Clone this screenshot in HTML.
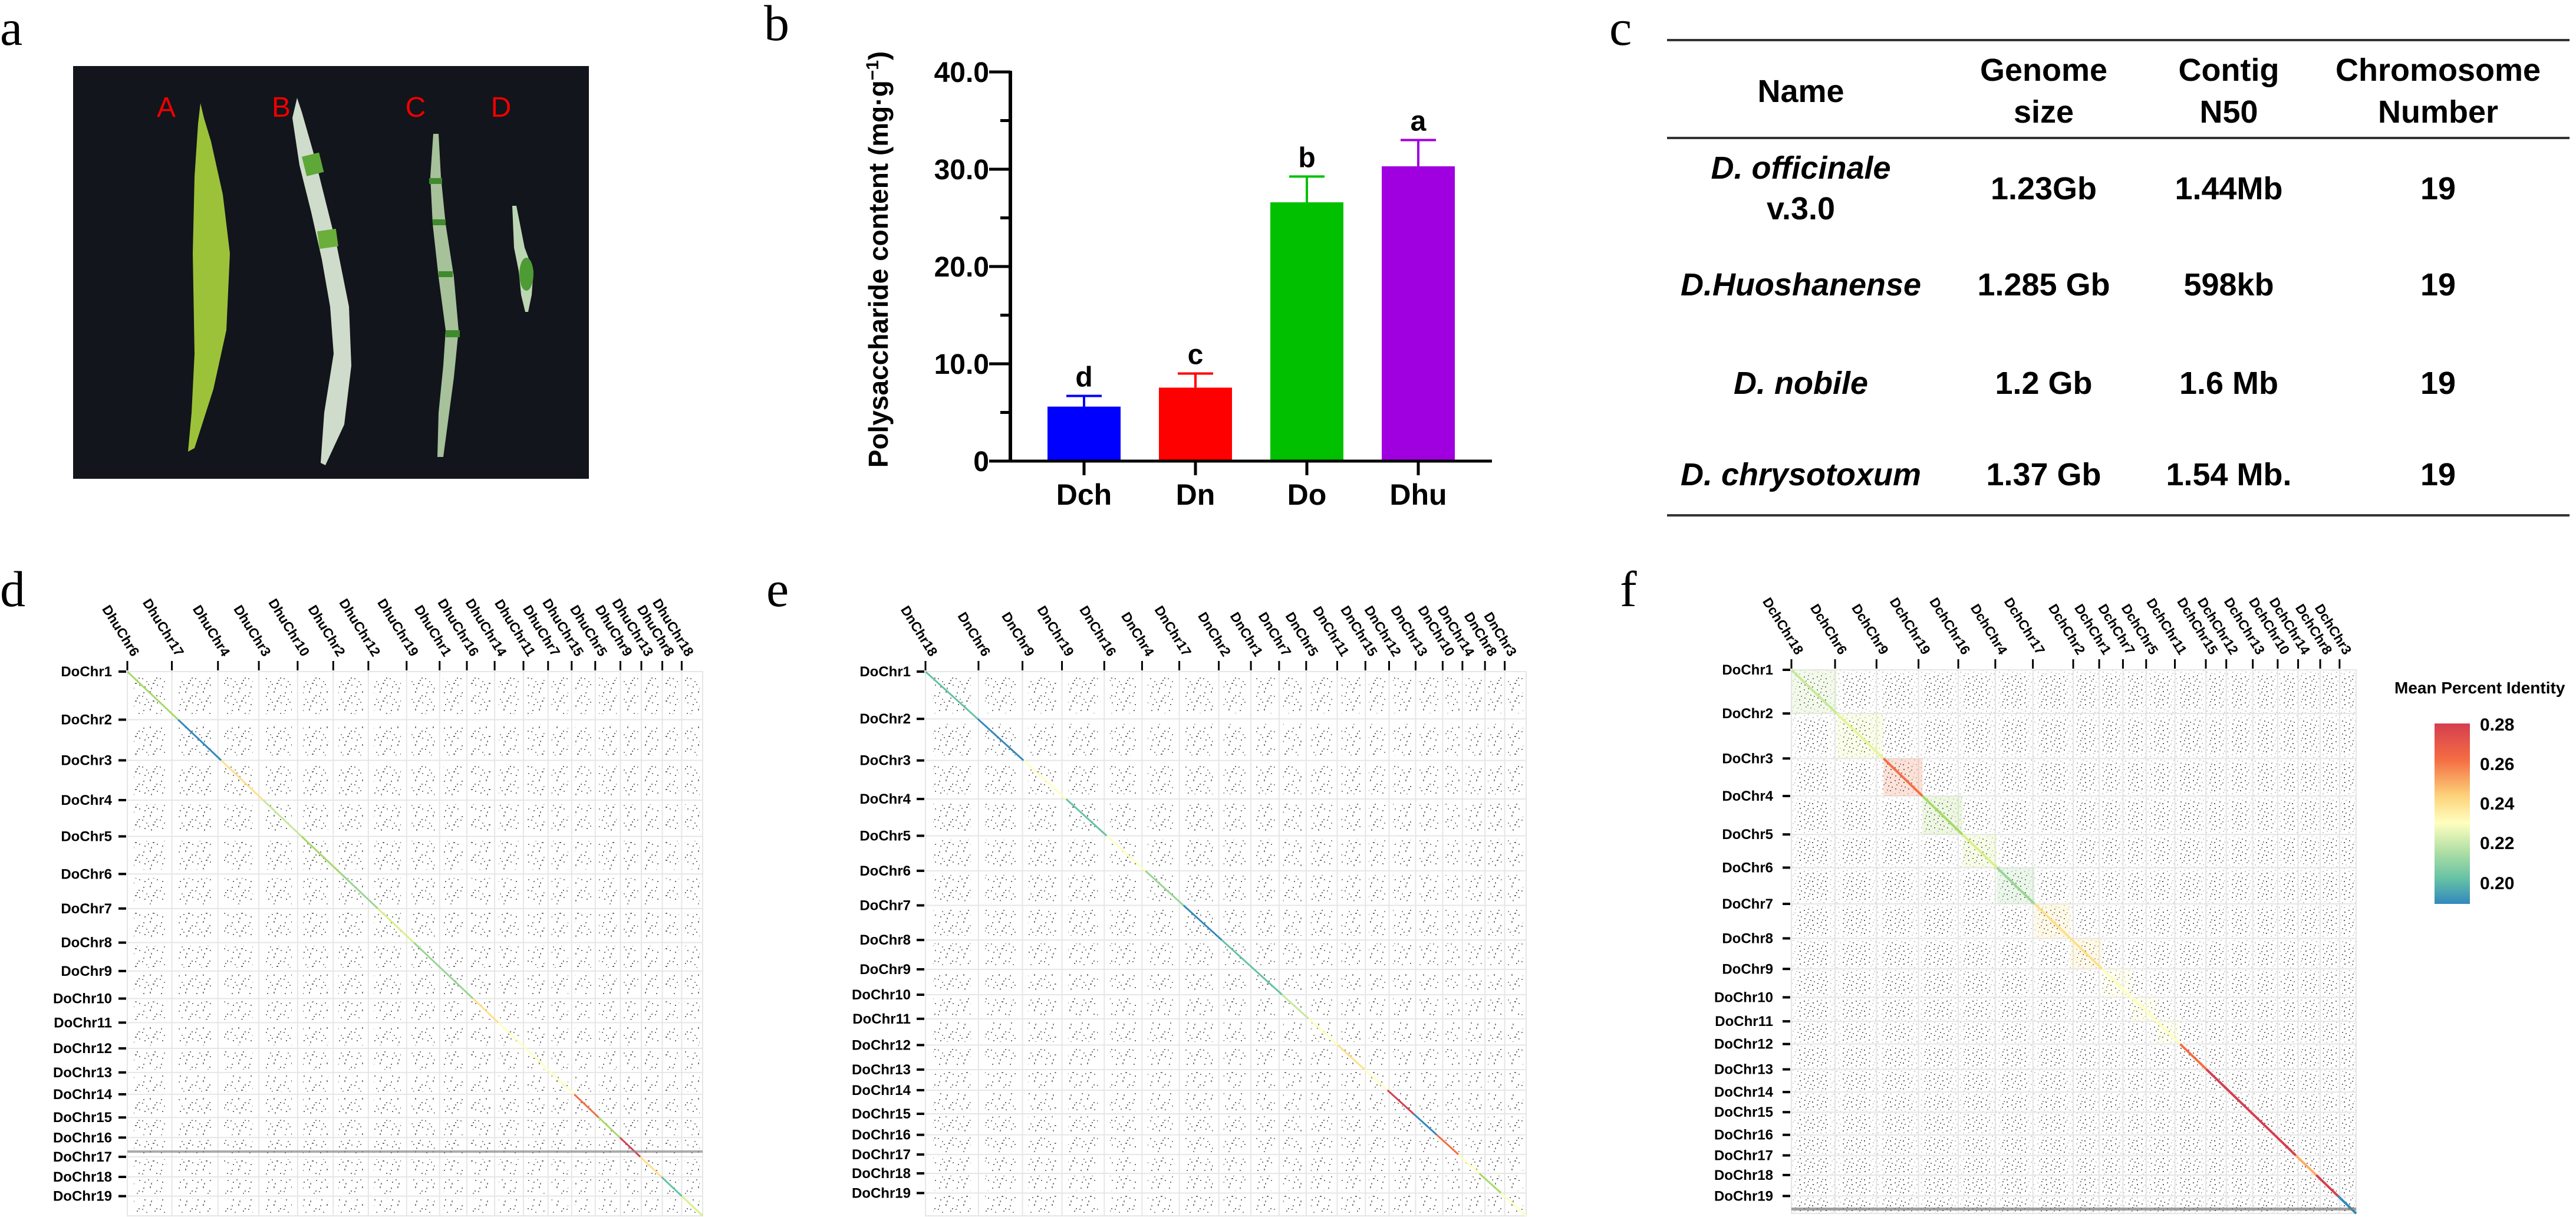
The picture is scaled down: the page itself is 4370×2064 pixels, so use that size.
<!DOCTYPE html>
<html><head><meta charset="utf-8">
<style>
html,body{margin:0;padding:0;background:#fff;}
svg{display:block;}
text{font-family:"Liberation Sans",sans-serif;}
.serif{font-family:"Liberation Serif",serif;}
</style></head>
<body>
<svg id="fig" width="4370" height="2064" viewBox="0 0 4370 2064" xmlns="http://www.w3.org/2000/svg">
<defs>
<pattern id="dotsL" width="30" height="30" patternUnits="userSpaceOnUse">
<rect x="3" y="4" width="2" height="2" fill="#555"/><rect x="14" y="2" width="2" height="3" fill="#666"/><rect x="25" y="9" width="2" height="2" fill="#555"/><rect x="8" y="15" width="2" height="2" fill="#777"/><rect x="19" y="18" width="3" height="2" fill="#555"/><rect x="26" y="21" width="2" height="2" fill="#666"/><rect x="5" y="24" width="2" height="2" fill="#555"/><rect x="16" y="26" width="2" height="3" fill="#777"/><rect x="22" y="13" width="2" height="2" fill="#555"/><rect x="11" y="20" width="2" height="2" fill="#666"/><rect x="1" y="10" width="2" height="2" fill="#666"/>
</pattern>
<pattern id="dotsD" width="22" height="22" patternUnits="userSpaceOnUse">
<rect x="2" y="3" width="2" height="2" fill="#666"/><rect x="9" y="1" width="2" height="2" fill="#777"/><rect x="17" y="6" width="2" height="2" fill="#555"/><rect x="5" y="10" width="2" height="2" fill="#888"/><rect x="13" y="12" width="2" height="2" fill="#666"/><rect x="19" y="14" width="2" height="2" fill="#777"/><rect x="3" y="17" width="2" height="2" fill="#666"/><rect x="11" y="19" width="2" height="2" fill="#888"/><rect x="16" y="20" width="2" height="2" fill="#555"/><rect x="8" y="7" width="2" height="2" fill="#777"/>
</pattern>
<linearGradient id="spectral" x1="0" y1="0" x2="0" y2="1">
<stop offset="0" stop-color="#d53e4f"/><stop offset="0.2" stop-color="#f46d43"/><stop offset="0.4" stop-color="#fdd27a"/><stop offset="0.55" stop-color="#ffffbf"/><stop offset="0.72" stop-color="#abdda4"/><stop offset="0.86" stop-color="#66c2a5"/><stop offset="1" stop-color="#3288bd"/>
</linearGradient>
</defs>

<!-- Panel a -->
<g>
<text class="serif" x="0" y="76" font-size="86">a</text>
<rect x="124" y="112" width="875" height="700" fill="#12151b"/>
<path d="M340,175 L346,200 L358,240 L378,330 L390,430 L384,560 L362,660 L330,760 L319,766 L325,700 L330,600 L327,430 L330,300 L336,210 Z" fill="#9cc23a"/>
<path d="M504,166 L512,190 L532,260 L552,340 L572,420 L592,520 L596,620 L584,720 L552,789 L544,785 L550,700 L566,600 L560,520 L546,440 L528,360 L508,280 L496,200 Z" fill="#cfdccb"/>
<rect x="516" y="262" width="30" height="34" fill="#5ea838" transform="rotate(-14 530 280)"/>
<rect x="540" y="390" width="32" height="30" fill="#6aae3c" transform="rotate(-8 556 405)"/>
<path d="M735,227 L744,227 L748,300 L756,380 L770,470 L778,560 L770,640 L762,700 L752,775 L742,775 L744,700 L752,620 L756,560 L744,470 L734,380 L730,300 Z" fill="#a7c19a"/>
<rect x="728" y="302" width="22" height="10" fill="#3f8a2c"/><rect x="734" y="372" width="22" height="10" fill="#3f8a2c"/><rect x="744" y="460" width="24" height="10" fill="#3f8a2c"/><rect x="756" y="560" width="24" height="12" fill="#3f8a2c"/>
<path d="M869,349 L876,349 L890,420 L905,460 L902,500 L896,529 L891,529 L884,500 L880,460 L872,420 Z" fill="#bcd6b4"/>
<ellipse cx="893" cy="465" rx="12" ry="28" fill="#4e9b35"/>
<text x="282" y="198" font-size="48" fill="#e00" text-anchor="middle">A</text>
<text x="477" y="198" font-size="48" fill="#e00" text-anchor="middle">B</text>
<text x="705" y="198" font-size="48" fill="#e00" text-anchor="middle">C</text>
<text x="850" y="198" font-size="48" fill="#e00" text-anchor="middle">D</text>
</g>

<!-- Panel b -->
<g id="panelB">
<text class="serif" x="1296" y="68" font-size="86">b</text>
<text transform="translate(1506,440) rotate(-90)" font-size="46" font-weight="bold" text-anchor="middle">Polysaccharide content (mg·g<tspan font-size="30" dy="-16">−1</tspan><tspan dy="16">)</tspan></text>
</g>

<!-- Panel c -->
<g font-weight="bold" font-size="54" text-anchor="middle">
<text class="serif" x="2730" y="76" font-size="86" font-weight="normal" text-anchor="start">c</text>
<rect x="2828" y="66" width="1531" height="4" fill="#333"/>
<rect x="2828" y="232" width="1531" height="4" fill="#333"/>
<rect x="2828" y="872" width="1531" height="4" fill="#333"/>
<text x="3055" y="173">Name</text>
<text x="3467" y="137">Genome</text><text x="3467" y="208">size</text>
<text x="3781" y="137">Contig</text><text x="3781" y="208">N50</text>
<text x="4136" y="137">Chromosome</text><text x="4136" y="208">Number</text>
<text x="3055" y="303" font-style="italic">D. officinale</text><text x="3055" y="372">v.3.0</text>
<text x="3467" y="338">1.23Gb</text><text x="3781" y="338">1.44Mb</text><text x="4136" y="338">19</text>
<text x="3055" y="501" font-style="italic">D.Huoshanense</text>
<text x="3467" y="501">1.285 Gb</text><text x="3781" y="501">598kb</text><text x="4136" y="501">19</text>
<text x="3055" y="668" font-style="italic">D. nobile</text>
<text x="3467" y="668">1.2 Gb</text><text x="3781" y="668">1.6 Mb</text><text x="4136" y="668">19</text>
<text x="3055" y="823" font-style="italic">D. chrysotoxum</text>
<text x="3467" y="823">1.37 Gb</text><text x="3781" y="823">1.54 Mb.</text><text x="4136" y="823">19</text>
</g>

<text class="serif" x="0" y="1028" font-size="86">d</text>
<text class="serif" x="1300" y="1028" font-size="86">e</text>
<text class="serif" x="2748" y="1028" font-size="86">f</text>
<g id="panelD"></g>
<g id="panelE"></g>
<g id="panelF"></g>
<g>
<text x="4062" y="1176" font-size="28" font-weight="bold">Mean Percent Identity</text>
<rect x="4130" y="1227" width="60" height="306" fill="url(#spectral)"/>
<g font-size="30" font-weight="bold">
<text x="4207" y="1239">0.28</text><text x="4207" y="1306">0.26</text><text x="4207" y="1373">0.24</text><text x="4207" y="1440">0.22</text><text x="4207" y="1508">0.20</text>
</g>
</g>
</svg>

<script>
// ---------- Bar chart data ----------
const barCategories = ["Dch", "Dn", "Do", "Dhu"];
const barValues = [5.6, 7.55, 26.6, 30.3];
const barErrors = [1.1, 1.45, 2.65, 2.7];
const barLetters = ["d", "c", "b", "a"];
const barColors = ["#0000ff", "#ff0000", "#00c000", "#a000e0"];
const yTickValues = [0, 10, 20, 30, 40];
const yTickLabels = ["0", "10.0", "20.0", "30.0", "40.0"];
const yMinorTicks = [5, 15, 25, 35];

const NS = "http://www.w3.org/2000/svg";
function mk(tag, attrs, parent) {
  const e = document.createElementNS(NS, tag);
  for (const k in attrs) e.setAttribute(k, attrs[k]);
  parent.appendChild(e);
  return e;
}
(function () {
  const g = document.getElementById("panelB");
  const axisX = 1714, y0 = 782, pxPer = 16.5;
  const ys = v => y0 - v * pxPer;
  const xs = i => 1839 + i * 189;
  const bw = 124;
  barValues.forEach((v, i) => {
    const r = mk("rect", { x: xs(i) - bw / 2, y: ys(v), width: bw, height: y0 - ys(v), fill: barColors[i] }, g);
    
    
    const top = ys(v + barErrors[i]);
    const el = mk("path", { d: `M${xs(i)},${ys(v)}V${top}M${xs(i) - 30},${top}H${xs(i) + 30}`, stroke: barColors[i], "stroke-width": 4, fill: "none" }, g);
    
    
    const t = mk("text", { x: xs(i), y: top - 16, "font-size": 48, "font-weight": "bold", "text-anchor": "middle" }, g);
    t.textContent = barLetters[i];
    
    
    const tk = mk("rect", { x: xs(i) - 2.5, y: y0, width: 5, height: 24, fill: "#000" }, g);
    
    
    const xl = mk("text", { x: xs(i), y: 856, "font-size": 50, "font-weight": "bold", "text-anchor": "middle" }, g);
    xl.textContent = barCategories[i];
    
    
  });
  const ax = mk("rect", { x: axisX - 3, y: ys(40) - 2, width: 6, height: y0 - ys(40) + 4, fill: "#000" }, g);
  
  
  const xa = mk("rect", { x: axisX - 3, y: y0 - 2.5, width: 2534 - axisX, height: 5, fill: "#000" }, g);
  
  
  yTickValues.forEach((v, i) => {
    const tk = mk("rect", { x: axisX - 36, y: ys(v) - 2.5, width: 36, height: 5, fill: "#000" }, g);
    
    
    const tl = mk("text", { x: 1678, y: ys(v) + 17, "font-size": 48, "font-weight": "bold", "text-anchor": "end" }, g);
    tl.textContent = yTickLabels[i];
    
    
  });
  yMinorTicks.forEach(v => {
    const tk = mk("rect", { x: axisX - 17, y: ys(v) - 2.5, width: 17, height: 5, fill: "#000" }, g);
    
    
  });
})();

// ---------- Dot plot data ----------
const doNames = ["DoChr1","DoChr2","DoChr3","DoChr4","DoChr5","DoChr6","DoChr7","DoChr8","DoChr9","DoChr10","DoChr11","DoChr12","DoChr13","DoChr14","DoChr15","DoChr16","DoChr17","DoChr18","DoChr19"];
const dNamesX = ["DhuChr6","DhuChr17","DhuChr4","DhuChr3","DhuChr10","DhuChr2","DhuChr12","DhuChr19","DhuChr1","DhuChr16","DhuChr14","DhuChr11","DhuChr7","DhuChr15","DhuChr5","DhuChr9","DhuChr13","DhuChr8","DhuChr18"];
const dLenX = [85,88,78,74,68,67,73,63,52,53,55,47,45,45,48,40,40,37,40];
const dLenY = [110,93,91,83,86,79,78,65,63,55,59,55,50,53,46,44,46,44,45];
const dDiagColors = ["#a6d96a","#3288bd","#fee08b","#c7e89b","#a6d96a","#99d594","#d9ef8b","#99d594","#99d594","#fee08b","#ffffbf","#ffffbf","#ffffbf","#f46d43","#a6d96a","#d53e4f","#fee08b","#66c2a5","#d9ef8b"];
const eNamesX = ["DnChr18","DnChr6","DnChr9","DnChr19","DnChr16","DnChr4","DnChr17","DnChr2","DnChr1","DnChr7","DnChr5","DnChr11","DnChr15","DnChr12","DnChr13","DnChr10","DnChr14","DnChr8","DnChr3"];
const eLenX = [94,78,70,75,67,66,70,57,50,48,55,50,42,47,48,35,40,35,38];
const eLenY = [108,95,88,84,80,79,79,67,58,55,60,56,47,54,48,45,43,45,52];
const eDiagColors = ["#66c2a5","#3288bd","#ffffbf","#66c2a5","#ffffbf","#99d594","#3288bd","#66c2a5","#66c2a5","#c7e89b","#ffffbf","#fee08b","#ffffbf","#d53e4f","#3288bd","#f46d43","#ffffbf","#a6d96a","#ffffbf"];
const fNamesX = ["DchChr18","DchChr6","DchChr9","DchChr19","DchChr16","DchChr4","DchChr17","DchChr2","DchChr1","DchChr7","DchChr5","DchChr11","DchChr15","DchChr12","DchChr13","DchChr10","DchChr14","DchChr8","DchChr3"];
const fLenX = [79,75,76,72,67,68,73,47,43,42,52,56,37,48,45,37,40,35,30];
const fLenY = [100,103,86,88,76,83,79,70,65,55,52,58,52,46,52,47,45,48,40];
const fDiagColors = ["#c7e89b","#e6f598","#f46d43","#a6d96a","#d9ef8b","#99d594","#fee08b","#fee08b","#ffffbf","#ffffbf","#ffffbf","#f46d43","#d53e4f","#d53e4f","#d53e4f","#d53e4f","#fdae61","#d53e4f","#3288bd"];

function dotplot(id, cfg) {
  const g = document.getElementById(id);
  const { L, R, T, B, namesX, lenX, lenY, colors, labelRight, dense, tint, sw } = cfg;
  const sx = (R - L) / lenX.reduce((a, b) => a + b, 0);
  const sy = (B - T) / lenY.reduce((a, b) => a + b, 0);
  const bx = [L]; lenX.forEach(l => bx.push(bx[bx.length - 1] + l * sx));
  const by = [T]; lenY.forEach(l => by.push(by[by.length - 1] + l * sy));
  const fr = mk("rect", { x: L, y: T, width: R - L, height: B - T, fill: "#fff", stroke: "#e4e4e4", "stroke-width": 2 }, g);
  
  
  if (dense) mk("rect", { x: L, y: T, width: R - L, height: B - T, fill: "url(#dotsD)", opacity: 0.35 }, g);
  for (let i = 0; i < lenX.length; i++) for (let j = 0; j < lenY.length; j++) {
    const w = bx[i + 1] - bx[i], h = by[j + 1] - by[j];
    const c = mk("rect", { x: bx[i] + w * 0.15, y: by[j] + h * 0.12, width: w * 0.7, height: h * 0.76, fill: dense ? "url(#dotsD)" : "url(#dotsL)", opacity: dense ? 0.95 : 0.85 }, g);
    
    
  }
  bx.forEach(x => mk("line", { x1: x, y1: T, x2: x, y2: B, stroke: "#e6e6e6", "stroke-width": 2 }, g));
  by.forEach(y => mk("line", { x1: L, y1: y, x2: R, y2: y, stroke: "#e6e6e6", "stroke-width": 2 }, g));
  for (let j = 0; j < lenY.length; j++) {
    const x1 = L + (by[j] - T) / (B - T) * (R - L), x2 = L + (by[j + 1] - T) / (B - T) * (R - L);
    if (tint && j < 11) {
      const tb = mk("rect", { x: x1, y: by[j], width: x2 - x1, height: by[j + 1] - by[j], fill: colors[j], opacity: 0.2 }, g);
      
      
    }
    const s = mk("line", { x1: x1, y1: by[j], x2: x2, y2: by[j + 1], stroke: colors[j], "stroke-width": sw }, g);
    
    
  }
  for (let i = 0; i < namesX.length; i++) {
    mk("rect", { x: bx[i] - 1.5, y: T - 18, width: 3, height: 16, fill: "#000" }, g);
    const t = mk("text", { x: 0, y: 0, "font-size": 23, "font-weight": "bold", "text-anchor": "end", transform: `translate(${bx[i] + 8},${T - 24}) rotate(58)` }, g);
    t.textContent = namesX[i];
    
    
  }
  for (let j = 0; j < doNames.length; j++) {
    mk("rect", { x: L - 15, y: by[j] - 2, width: 13, height: 4, fill: "#000" }, g);
    const t = mk("text", { x: labelRight, y: by[j] + 8, "font-size": 24, "font-weight": "bold", "text-anchor": "end" }, g);
    t.textContent = doNames[j];
    
    
  }
  return by;
}
dotplot("panelD", { L: 216, R: 1192, T: 1139, B: 2062, namesX: dNamesX, lenX: dLenX, lenY: dLenY, colors: dDiagColors, labelRight: 190, dense: false, tint: false, sw: 3 });
mk("rect", { x: 216, y: 1951, width: 976, height: 4, fill: "#888", opacity: 0.7 }, document.getElementById("panelD"));
dotplot("panelE", { L: 1570, R: 2589, T: 1139, B: 2062, namesX: eNamesX, lenX: eLenX, lenY: eLenY, colors: eDiagColors, labelRight: 1545, dense: false, tint: false, sw: 3 });
dotplot("panelF", { L: 3039, R: 3997, T: 1136, B: 2058, namesX: fNamesX, lenX: fLenX, lenY: fLenY, colors: fDiagColors, labelRight: 3008, dense: true, tint: true, sw: 4 });
mk("rect", { x: 3039, y: 2048, width: 958, height: 5, fill: "#777", opacity: 0.7 }, document.getElementById("panelF"));
</script>
</body></html>
